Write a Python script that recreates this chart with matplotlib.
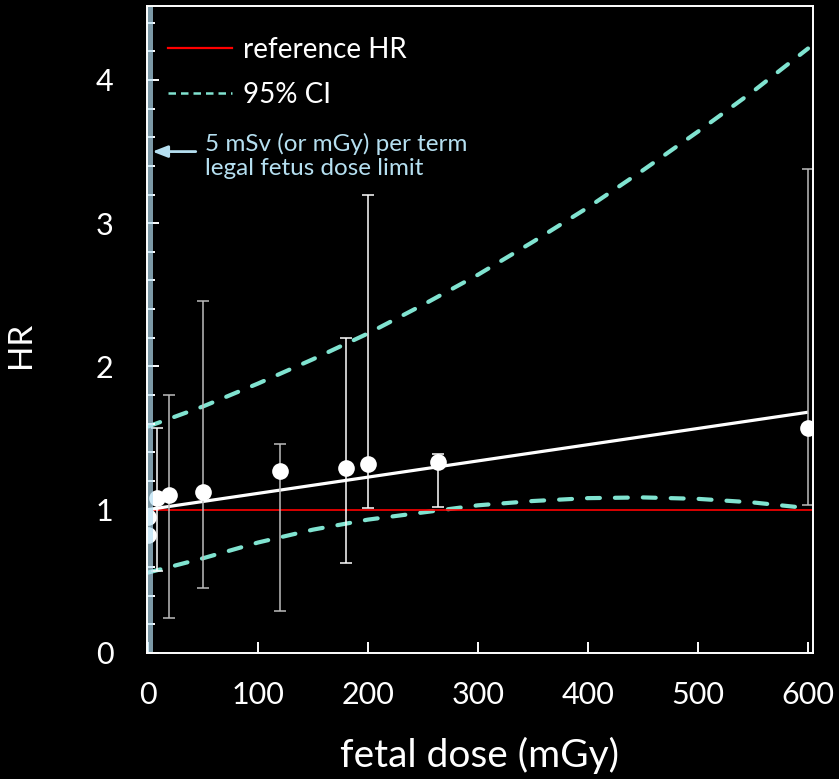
import matplotlib.pyplot as plt
from matplotlib.lines import Line2D

plt.rcParams['font.family'] = ['Lato', 'DejaVu Sans']

# hazard ratio per fetal dose group, with 95% limits (none for the two unexposed groups)
dose = [0, 0, 8, 19, 50, 120, 180, 200, 264, 600]
hr = [0.82, 0.95, 1.08, 1.10, 1.12, 1.27, 1.29, 1.32, 1.33, 1.57]
hr_lo = [None, None, 0.57, 0.24, 0.45, 0.29, 0.63, 1.01, 1.02, 1.03]
hr_hi = [None, None, 1.57, 1.80, 2.46, 1.46, 2.20, 3.20, 1.39, 3.38]
bar_col = ['w', 'w', 'w', '#bdbdbd', '#bdbdbd', '#bdbdbd', 'w', 'w', 'w', '#bdbdbd']

# linear fit and its confidence band
fit_dose = [0, 600]
fit_hr = [1.0, 1.68]
ci_dose = [0, 50, 100, 150, 200, 250, 300, 350, 400, 450, 500, 550, 600]
ci_upper = [1.58, 1.72, 1.88, 2.05, 2.23, 2.43, 2.64, 2.87, 3.11, 3.37, 3.64, 3.92, 4.22]
ci_lower = [0.56, 0.66, 0.77, 0.86, 0.93, 0.98, 1.03, 1.06, 1.08, 1.085, 1.075, 1.05, 1.01]

ci_col = '#80e3d0'
note_col = '#b5dff0'

fig = plt.figure(figsize=(8.39, 7.79), dpi=100, facecolor='black')
ax = fig.add_axes([0.175, 0.162, 0.794, 0.830], facecolor='black')

for y in (ci_upper, ci_lower):
    ax.plot(ci_dose, y, color=ci_col, lw=3, dashes=(3.1, 3.6),
            dash_capstyle='round', zorder=1.5)
ax.axhline(1.0, color='#ff0000', lw=1.2, zorder=1.6)
ax.plot(fit_dose, fit_hr, color='w', lw=2.3, solid_capstyle='butt', zorder=1.7)

for d, h, lo, hi, c in zip(dose, hr, hr_lo, hr_hi, bar_col):
    if lo is None:
        continue
    ax.errorbar(d, h, yerr=[[h - lo], [hi - h]], fmt='none', ecolor=c,
                elinewidth=1.1, capsize=4, capthick=1.1, zorder=1.8)
ax.plot(dose, hr, 'o', color='w', ms=12, mec='none', zorder=2.0)

# 5 mGy legal limit band
ax.axvspan(-1.5, 4.5, color='#b5dff3', alpha=0.69, lw=0, zorder=2.2)
ax.annotate('', xy=(1.5, 3.50), xytext=(46, 3.50),
            arrowprops=dict(arrowstyle='-|>,head_length=0.9,head_width=0.35',
                            color=note_col, lw=2))
ax.text(52, 3.47, '5 mSv (or mGy) per term\nlegal fetus dose limit',
        color=note_col, fontsize=17.5, va='center', ha='left', linespacing=1.2)

ax.set_xlim(-1, 604.5)
ax.set_ylim(0, 4.515)
ax.set_xticks(range(0, 601, 100))
ax.set_yticks(range(0, 5))
ax.set_yticks([i * 0.2 for i in range(23)], minor=True)

for s in ax.spines.values():
    s.set_color('w')
    s.set_linewidth(1.4)
ax.tick_params(which='both', direction='in', colors='w', width=1.4)
ax.tick_params(axis='x', which='major', length=8, pad=20, labelsize=22)
ax.tick_params(axis='y', which='major', length=8.5, pad=24, labelsize=22)
ax.tick_params(axis='y', which='minor', length=5.8)
ax.tick_params(top=False, right=False)

ax.set_xlabel('fetal dose (mGy)', color='w', fontsize=28, labelpad=20)
ax.set_ylabel('HR', color='w', fontsize=24)
ax.yaxis.set_label_coords(-0.167, 0.476)

handles = [Line2D([], [], color='#ff0000', lw=1.6),
           Line2D([], [], color=ci_col, lw=1.8, dashes=(3, 2))]
leg = ax.legend(handles, ['reference HR', '95% CI'], loc='upper left',
                bbox_to_anchor=(0.0315, 0.953), frameon=False, fontsize=20,
                handlelength=2.3, handletextpad=0.4, labelspacing=0.7,
                borderpad=0, borderaxespad=0)
for t in leg.get_texts():
    t.set_color('w')

fig.savefig('out.png', dpi=100, facecolor='black')
